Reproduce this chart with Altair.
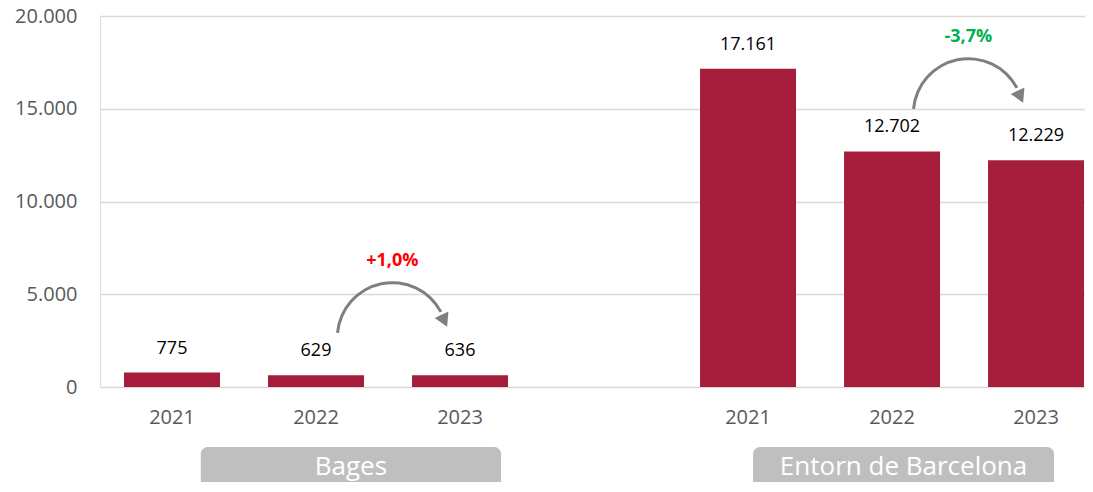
import altair as alt
import pandas as pd

# ---- data ----
groups = ["Bages", "Entorn de Barcelona"]
years = ["2021", "2022", "2023"]
bages_values = [775, 629, 636]
entorn_values = [17161, 12702, 12229]
changes = ["+1,0%", "-3,7%"]
change_colors = ["#FF0000", "#00B050"]
y_ticks = [0, 5000, 10000, 15000, 20000]

FONT = "Open Sans"
BAR = "#A61E3C"
GREY = "#7F7F7F"


def fmt(v):
    return f"{v:,}".replace(",", ".")


rows = []
for g, vals in enumerate([bages_values, entorn_values]):
    for k, (yr, v) in enumerate(zip(years, vals)):
        slot = g * 4 + k
        rows.append({"group": groups[g], "year": yr, "value": v, "slot": slot,
                     "x0": slot - 1 / 3, "x1": slot + 1 / 3, "label": fmt(v)})
bars = pd.DataFrame(rows)

arr_rows = []
for g, vals in enumerate([bages_values, entorn_values]):
    arr_rows.append({"ax": g * 4 + 1.53, "ay": vals[1] + 2030,
                     "ly": vals[1] + 6170, "text": changes[g], "color": change_colors[g]})
arrows = pd.DataFrame(arr_rows)

box_ranges = [(0.2, 2.285), (4.035, 6.125)]
boxes = pd.DataFrame({"group": groups,
                      "x0": [b[0] for b in box_ranges],
                      "x1": [b[1] for b in box_ranges],
                      "xc": [(b[0] + b[1]) / 2 for b in box_ranges]})

xscale = alt.Scale(domain=[-0.5, 6.34], nice=False, zero=False)
yscale = alt.Scale(domain=[0, 20000], nice=False)

yaxis = alt.Axis(values=y_ticks, title=None, domain=False, ticks=False,
                 labelExpr="replace(format(datum.value, ','), ',', '.')",
                 labelFont=FONT, labelFontSize=20, labelColor="#595959",
                 labelPadding=23, grid=True, gridColor="#D9D9D9", gridWidth=1.5)

bar_layer = alt.Chart(bars).mark_bar(color=BAR).encode(
    x=alt.X("x0:Q", scale=xscale, axis=None),
    x2="x1:Q",
    y=alt.Y("value:Q", scale=yscale, axis=yaxis),
    y2=alt.datum(0),
)

value_labels = alt.Chart(bars).mark_text(
    font=FONT, fontSize=18, color="black", baseline="middle", dy=-24
).encode(x="slot:Q", y="value:Q", text="label:N")

year_labels = alt.Chart(bars).mark_text(
    font=FONT, fontSize=20, color="#595959", baseline="middle"
).encode(x="slot:Q", y=alt.value(402), text="year:N")

box_layer = alt.Chart(boxes).mark_rect(color="#BFBFBF", cornerRadius=7).encode(
    x="x0:Q", x2="x1:Q", y=alt.value(431), y2=alt.value(475)
)

box_text = alt.Chart(boxes).mark_text(
    font=FONT, fontSize=26, color="white", baseline="middle"
).encode(x="xc:Q", y=alt.value(451), text="group:N")

arc_layer = alt.Chart(arrows).mark_arc(
    theta=4.80, theta2=7.365, innerRadius=53.5, outerRadius=56.5, color=GREY
).encode(x="ax:Q", y="ay:Q")

head_layer = alt.Chart(arrows).mark_point(
    shape="triangle-up", filled=True, size=230, angle=155, color=GREY, opacity=1,
    xOffset=52, yOffset=-17
).encode(x="ax:Q", y="ay:Q")

pct_layer = alt.Chart(arrows).mark_text(
    font=FONT, fontSize=18, fontWeight="bold", baseline="middle"
).encode(x="ax:Q", y="ly:Q", text="text:N", color=alt.Color("color:N", scale=None))

chart = alt.layer(
    bar_layer, value_labels, year_labels, box_layer, box_text,
    arc_layer, head_layer, pct_layer
).properties(
    width=985, height=371,
    autosize=alt.AutoSizeParams(type="none"),
    padding={"left": 92, "top": 8, "right": 0, "bottom": 95},
).configure_view(stroke=None).configure(background="white")

chart.save("out.html", embed_options={"renderer": "svg", "actions": False})
